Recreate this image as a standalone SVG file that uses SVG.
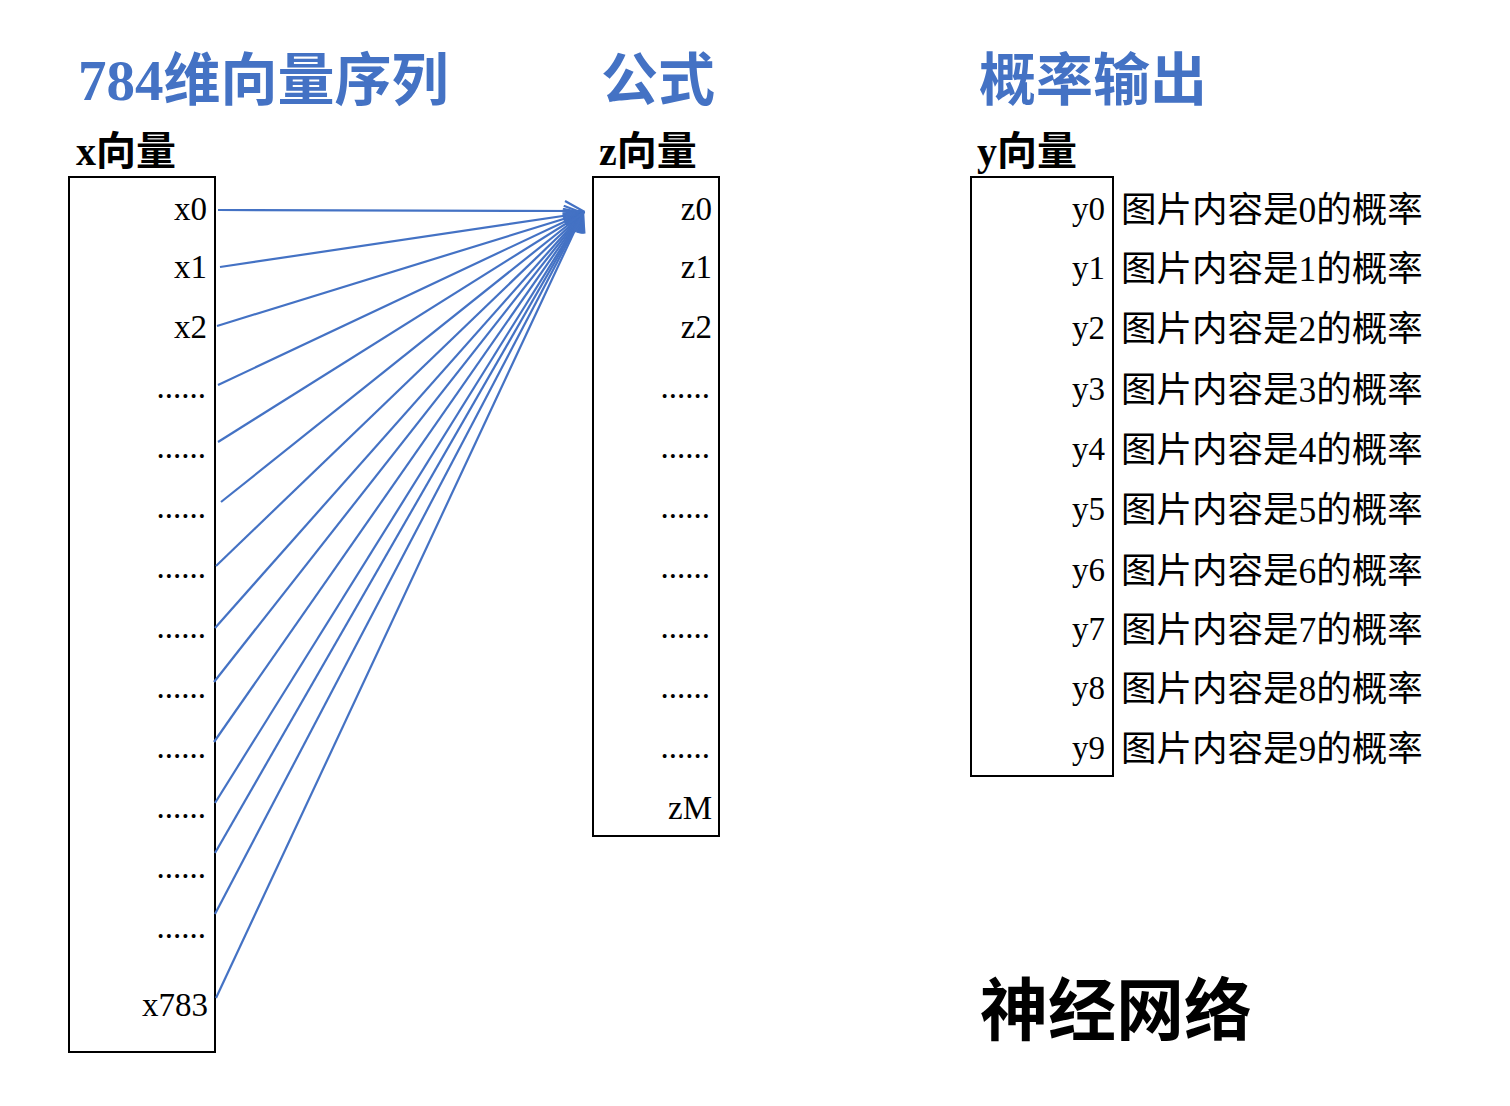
<svg xmlns="http://www.w3.org/2000/svg" width="1510" height="1106" viewBox="0 0 1510 1106">
<style>
text{font-family:"Liberation Serif","Noto Sans CJK SC",serif;}
.title{font-size:57px;font-weight:bold;fill:#4472C4;}
.sub{font-size:40px;font-weight:bold;fill:#000;}
.lab{font-size:33px;fill:#000;text-anchor:end;}
.desc{font-size:35.5px;fill:#000;}
.box{fill:none;stroke:#000;stroke-width:2;}
.con line{stroke:#4472C4;stroke-width:2.2;marker-end:url(#arr);}
.big{font-size:68px;font-weight:bold;fill:#000;}
</style>
<defs>
<marker id="arr" markerUnits="userSpaceOnUse" viewBox="0 0 22 22" refX="19" refY="11" markerWidth="22" markerHeight="22" orient="auto">
<path d="M1,1 L19,11 L1,21" fill="none" stroke="#4472C4" stroke-width="2.2"/>
</marker>
</defs>
<rect width="1510" height="1106" fill="#fff"/>
<text class="title" x="78" y="100">784维向量序列</text>
<text class="title" x="601" y="100">公式</text>
<text class="title" x="979" y="100">概率输出</text>
<text class="sub" x="76" y="165">x向量</text>
<text class="sub" x="599" y="165">z向量</text>
<text class="sub" x="977" y="165">y向量</text>

<g id="xvec">
<rect class="box" x="69" y="177" width="146" height="875"/>
<text class="lab" x="207" y="220">x0</text>
<text class="lab" x="207" y="278">x1</text>
<text class="lab" x="207" y="338">x2</text>
<text class="lab" x="206" y="398">......</text>
<text class="lab" x="206" y="458">......</text>
<text class="lab" x="206" y="518">......</text>
<text class="lab" x="206" y="578">......</text>
<text class="lab" x="206" y="638">......</text>
<text class="lab" x="206" y="698">......</text>
<text class="lab" x="206" y="758">......</text>
<text class="lab" x="206" y="818">......</text>
<text class="lab" x="206" y="878">......</text>
<text class="lab" x="206" y="938">......</text>
<text class="lab" x="208" y="1016">x783</text>
</g>

<g id="zvec">
<rect class="box" x="593" y="177" width="126" height="659"/>
<text class="lab" x="712" y="220">z0</text>
<text class="lab" x="712" y="278">z1</text>
<text class="lab" x="712" y="338">z2</text>
<text class="lab" x="710" y="398">......</text>
<text class="lab" x="710" y="458">......</text>
<text class="lab" x="710" y="518">......</text>
<text class="lab" x="710" y="578">......</text>
<text class="lab" x="710" y="638">......</text>
<text class="lab" x="710" y="698">......</text>
<text class="lab" x="710" y="758">......</text>
<text class="lab" x="712" y="819">zM</text>
</g>

<g id="yvec">
<rect class="box" x="971" y="177" width="142" height="599"/>
<text class="lab" x="1105" y="220">y0</text>
<text class="lab" x="1105" y="279">y1</text>
<text class="lab" x="1105" y="339">y2</text>
<text class="lab" x="1105" y="400">y3</text>
<text class="lab" x="1105" y="460">y4</text>
<text class="lab" x="1105" y="520">y5</text>
<text class="lab" x="1105" y="581">y6</text>
<text class="lab" x="1105" y="640">y7</text>
<text class="lab" x="1105" y="699">y8</text>
<text class="lab" x="1105" y="759">y9</text>
<text class="desc" x="1121" y="222">图片内容是0的概率</text>
<text class="desc" x="1121" y="281">图片内容是1的概率</text>
<text class="desc" x="1121" y="341">图片内容是2的概率</text>
<text class="desc" x="1121" y="402">图片内容是3的概率</text>
<text class="desc" x="1121" y="462">图片内容是4的概率</text>
<text class="desc" x="1121" y="522">图片内容是5的概率</text>
<text class="desc" x="1121" y="583">图片内容是6的概率</text>
<text class="desc" x="1121" y="642">图片内容是7的概率</text>
<text class="desc" x="1121" y="701">图片内容是8的概率</text>
<text class="desc" x="1121" y="761">图片内容是9的概率</text>
</g>

<g id="connectors" class="con">
<line x1="218" y1="210" x2="583" y2="211"/>
<line x1="220" y1="267" x2="583" y2="213"/>
<line x1="217" y1="326" x2="583" y2="213"/>
<line x1="218" y1="385" x2="583" y2="213"/>
<line x1="218" y1="442" x2="583" y2="213"/>
<line x1="221" y1="502" x2="583" y2="213"/>
<line x1="216" y1="566" x2="583" y2="213"/>
<line x1="215" y1="628" x2="583" y2="213"/>
<line x1="214" y1="682" x2="583" y2="213"/>
<line x1="214" y1="742" x2="583" y2="213"/>
<line x1="215" y1="803" x2="583" y2="213"/>
<line x1="215" y1="853" x2="583" y2="213"/>
<line x1="215" y1="914" x2="583" y2="213"/>
<line x1="216" y1="998" x2="583" y2="213"/>
</g>

<g id="caption">
<text class="big" x="980" y="1035">神经网络</text>
</g>
</svg>
